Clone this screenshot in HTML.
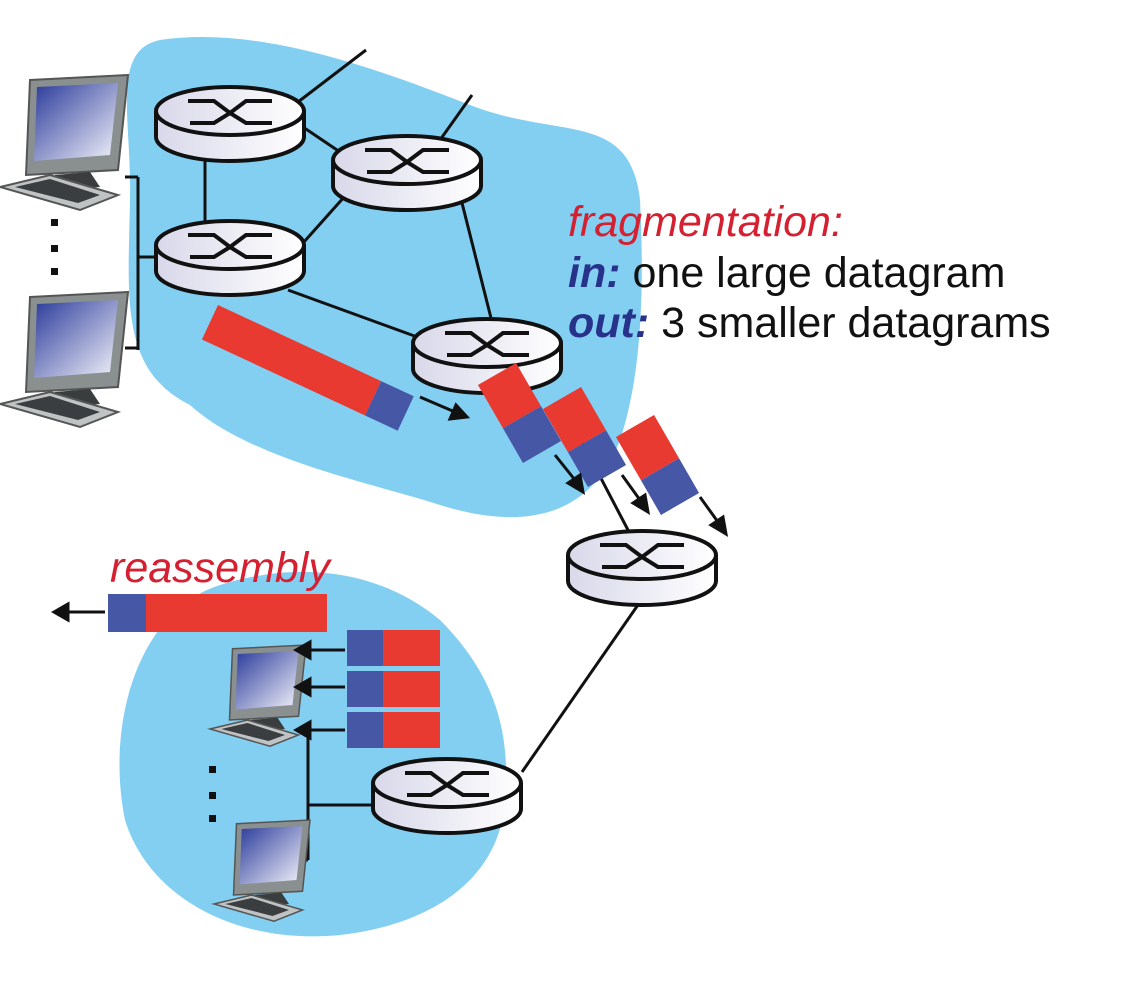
<!DOCTYPE html>
<html><head><style>body{margin:0;background:#fff}svg{display:block}</style></head><body>
<svg width="1130" height="1000" viewBox="0 0 1130 1000" xmlns="http://www.w3.org/2000/svg">
<defs>
<linearGradient id="rg" x1="0" x2="1"><stop offset="0" stop-color="#d8d8ea"/><stop offset="1" stop-color="#ffffff"/></linearGradient>
<linearGradient id="sg" x1="0" y1="0" x2="1" y2="1"><stop offset="0" stop-color="#2a3a9a"/><stop offset="1" stop-color="#f4f4fb"/></linearGradient>
<g id="router">
<path d="M-74,0 v26 a74,24 0 0 0 148,0 v-26" fill="url(#rg)" stroke="#111" stroke-width="4"/>
<ellipse cx="0" cy="0" rx="74" ry="24" fill="url(#rg)" stroke="#111" stroke-width="4"/>
<path d="M-42,-10 h26 l16,12 l16,-12 h26 M-40,12 h24 l16,-10 l16,10 h26" fill="none" stroke="#111" stroke-width="4"/>
</g>
<g id="pc">
<path d="M30,5 L128,0 L118,95 L26,100 Z" fill="#8a8f90" stroke="#555" stroke-width="2"/>
<path d="M37,12 L118,8 L110,80 L34,86 Z" fill="url(#sg)"/>
<path d="M55,100 L90,97 L100,112 L50,116 Z" fill="#3a3d3e"/>
<path d="M0,112 L50,100 L118,120 L80,135 Z" fill="#bfc3c4" stroke="#555" stroke-width="2"/>
<path d="M15,112 L50,104 L100,120 L78,128 Z" fill="#3b3e40"/>
</g>
</defs>
<path d="M160,40 C260,25 380,70 470,105 C560,140 630,110 640,200 C645,300 640,380 620,440 C590,520 520,530 440,505 C380,485 250,460 190,405 C120,370 128,300 130,200 C132,120 110,50 160,40 Z" fill="#83cff2"/>
<path d="M220,585 C300,560 380,570 440,620 C500,680 510,740 505,800 C500,880 430,925 340,935 C240,945 150,900 125,820 C105,720 140,610 220,585 Z" fill="#83cff2"/>
<g stroke="#111" stroke-width="3" fill="none">
<path d="M298,102 L366,50"/><path d="M440,140 L472,95"/>
<path d="M300,125 L340,152"/><path d="M205,160 L205,225"/>
<path d="M295,252 L345,196"/><path d="M460,195 L492,322"/>
<path d="M288,290 L420,338"/><path d="M560,400 L628,530"/>
<path d="M640,602 L522,772"/>
<path d="M138,177 V350 M125,177 H138 M125,348 H138 M138,257 H158"/>
<path d="M308,732 V860 M295,860 H308 M308,805 H374"/>
</g>
<use href="#router" x="230" y="111"/>
<use href="#router" x="407" y="160"/>
<use href="#router" x="230" y="245"/>
<use href="#router" x="487" y="343"/>
<use href="#router" x="642" y="555"/>
<use href="#router" x="447" y="783"/>
<use href="#pc" x="0" y="75"/>
<use href="#pc" x="0" y="292"/>
<g transform="translate(210,645) scale(0.75)"><use href="#pc"/></g>
<g transform="translate(214,820) scale(0.75)"><use href="#pc"/></g>
<g fill="#111"><rect x="51" y="219" width="7" height="7"/><rect x="51" y="245" width="7" height="7"/><rect x="51" y="268" width="7" height="7"/>
<rect x="209" y="766" width="7" height="7"/><rect x="209" y="792" width="7" height="7"/><rect x="209" y="815" width="7" height="7"/></g>
<g transform="translate(218,305) rotate(25)">
<rect x="0" y="0" width="180" height="38" fill="#e83a30"/><rect x="180" y="0" width="36" height="38" fill="#4657a6"/>
</g>
<g transform="translate(497,374) rotate(60)"><rect x="0" y="-22" width="50" height="44" fill="#e83a30"/><rect x="50" y="-22" width="40" height="44" fill="#4657a6"/></g>
<g transform="translate(562,398) rotate(60)"><rect x="0" y="-22" width="50" height="44" fill="#e83a30"/><rect x="50" y="-22" width="40" height="44" fill="#4657a6"/></g>
<g transform="translate(635,426) rotate(60)"><rect x="0" y="-22" width="50" height="44" fill="#e83a30"/><rect x="50" y="-22" width="40" height="44" fill="#4657a6"/></g>
<g stroke="#111" stroke-width="3" fill="#111">
<line x1="420" y1="397" x2="455" y2="412"/><path d="M467,417 L450,419 L456,405 Z"/>
<line x1="555" y1="455" x2="575" y2="480"/><path d="M583,492 L568,483 L580,475 Z"/>
<line x1="622" y1="475" x2="640" y2="500"/><path d="M648,512 L633,503 L645,495 Z"/>
<line x1="700" y1="497" x2="718" y2="522"/><path d="M726,534 L711,525 L723,517 Z"/>
<line x1="105" y1="612" x2="68" y2="612"/><path d="M54,612 L68,604 L68,620 Z"/>
<line x1="345" y1="650" x2="310" y2="650"/><path d="M296,650 L310,642 L310,658 Z"/>
<line x1="345" y1="687" x2="310" y2="687"/><path d="M296,687 L310,679 L310,695 Z"/>
<line x1="345" y1="730" x2="310" y2="730"/><path d="M296,730 L310,722 L310,738 Z"/>
</g>
<rect x="108" y="594" width="38" height="38" fill="#4657a6"/><rect x="146" y="594" width="181" height="38" fill="#e83a30"/>
<rect x="347" y="630" width="36" height="36" fill="#4657a6"/><rect x="383" y="630" width="57" height="36" fill="#e83a30"/>
<rect x="347" y="671" width="36" height="36" fill="#4657a6"/><rect x="383" y="671" width="57" height="36" fill="#e83a30"/>
<rect x="347" y="712" width="36" height="36" fill="#4657a6"/><rect x="383" y="712" width="57" height="36" fill="#e83a30"/>
<g font-family="Liberation Sans, sans-serif" font-size="43">
<text x="568" y="236" fill="#d42030" font-style="italic">fragmentation:</text>
<text x="568" y="287" fill="#111"><tspan fill="#27338a" font-weight="bold" font-style="italic">in:</tspan> one large datagram</text>
<text x="568" y="337" fill="#111"><tspan fill="#27338a" font-weight="bold" font-style="italic">out:</tspan> 3 smaller datagrams</text>
<text x="110" y="582" fill="#d42030" font-style="italic">reassembly</text>
</g>
</svg>
</body></html>
